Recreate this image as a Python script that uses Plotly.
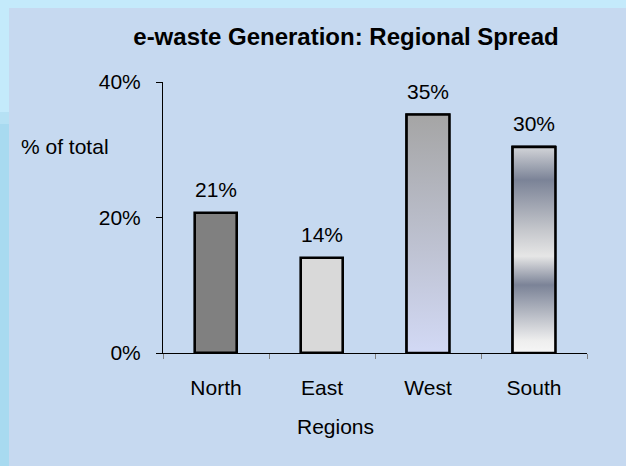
import plotly.graph_objects as go

# ---- data ----
regions = ["North", "East", "West", "South"]
share = [0.206, 0.140, 0.352, 0.304]
y_ticks = [0.0, 0.2, 0.4]

title_text = "e-waste Generation: Regional Spread"
y_title = "% of total"
x_title = "Regions"

# ---- styling ----
W, H = 626, 466
L, R, T, B = 163, 39, 82, 113
FONT = "Liberation Sans, Arial, sans-serif"
PANEL = "#c6d9f0"
OUTER = "#c4eafb"
OUTER_DARK = "#a8daf0"
BAR_W = 0.405

solid_colors = ["#808080", "#d9d9d9", "#b8bccb", "#c8cbd2"]
# vertical gradients (0 = bottom of the bar, 1 = top)
gradients = {
    2: [[0.0, "#d2d9f5"], [1.0, "#a5a5a5"]],
    3: [[0.0, "#f6f6f6"], [0.06, "#eeeeee"], [0.33, "#7b8397"],
        [0.47, "#e6e6e6"], [0.60, "#c4c6cb"], [0.84, "#7b8397"],
        [1.0, "#d2d4d8"]],
}

pw, ph = W - L - R, H - T - B


def fx(p):
    return (p - L) / pw


def fy(p):
    return (H - B - p) / ph


fig = go.Figure()

fig.add_trace(go.Bar(
    x=list(range(len(regions))), y=share, width=BAR_W,
    marker=dict(color=solid_colors, line=dict(color="black", width=2.6)),
    hoverinfo="skip", showlegend=False,
))

for i, grad in gradients.items():
    v = share[i]
    fig.add_trace(go.Scatter(
        x=[i - BAR_W / 2, i + BAR_W / 2, i + BAR_W / 2, i - BAR_W / 2, i - BAR_W / 2],
        y=[0, 0, v, v, 0],
        mode="lines", fill="toself",
        fillgradient=dict(type="vertical", colorscale=grad, start=0, stop=v),
        line=dict(color="black", width=2.6),
        hoverinfo="skip", showlegend=False,
    ))

annotations = []
for i, v in enumerate(share):
    annotations.append(dict(
        x=i, y=v, xref="x", yref="y", text=f"{v:.0%}", showarrow=False,
        yanchor="bottom", yshift=10, font=dict(size=21, color="black", family=FONT),
    ))
annotations.append(dict(
    x=fx(65), y=fy(146), xref="paper", yref="paper", text=y_title,
    showarrow=False, xanchor="center", yanchor="middle",
    font=dict(size=21, color="black", family=FONT),
))
annotations.append(dict(
    x=fx(335), y=fy(426), xref="paper", yref="paper", text=x_title,
    showarrow=False, xanchor="center", yanchor="middle",
    font=dict(size=21, color="black", family=FONT),
))

shapes = [
    dict(type="rect", xref="paper", yref="paper", layer="below",
         x0=fx(0), x1=fx(W), y0=fy(0), y1=fy(8), fillcolor=OUTER, line_width=0),
    dict(type="rect", xref="paper", yref="paper", layer="below",
         x0=fx(0), x1=fx(9), y0=fy(0), y1=fy(112), fillcolor=OUTER, line_width=0),
    dict(type="rect", xref="paper", yref="paper", layer="below",
         x0=fx(0), x1=fx(9), y0=fy(112), y1=fy(124), fillcolor="#b6e1f4", line_width=0),
    dict(type="rect", xref="paper", yref="paper", layer="below",
         x0=fx(0), x1=fx(9), y0=fy(124), y1=fy(H), fillcolor=OUTER_DARK, line_width=0),
]

fig.update_layout(
    width=W, height=H,
    margin=dict(l=L, r=R, t=T, b=B, autoexpand=False),
    paper_bgcolor=PANEL, plot_bgcolor=PANEL,
    font=dict(family=FONT, size=21, color="black"),
    title=dict(text=f"<b>{title_text}</b>", x=346 / W, xref="container", xanchor="center",
               y=1 - 37 / H, yref="container", yanchor="middle",
               font=dict(size=24, color="black", family=FONT)),
    showlegend=False,
    annotations=annotations, shapes=shapes,
    bargap=0,
)

fig.update_xaxes(
    range=[-0.5, len(regions) - 0.5], tickvals=list(range(len(regions))), ticktext=regions,
    ticks="", showgrid=False, zeroline=False, showline=True, linecolor="black", linewidth=1,
    tickfont=dict(size=21), ticklabelstandoff=16,
    minor=dict(tickvals=[k - 0.5 for k in range(len(regions) + 1)], ticks="outside",
               ticklen=5, tickcolor="#808080", tickwidth=1, showgrid=False),
)
fig.update_yaxes(
    range=[0, 0.4], tickvals=y_ticks, tickformat=".0%", ticks="outside", ticklen=6,
    tickcolor="black", showgrid=False, zeroline=False, showline=True, linecolor="black",
    linewidth=1, tickfont=dict(size=21), ticklabelstandoff=11,
)

fig.write_html("out.html")
